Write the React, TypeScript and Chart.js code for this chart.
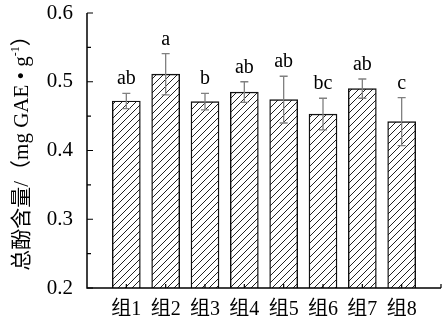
import React, { useEffect, useRef } from 'react';
import { Chart, registerables } from 'chart.js';
Chart.register(...registerables);

const categories = ['组1', '组2', '组3', '组4', '组5', '组6', '组7', '组8'];
const means = [0.472, 0.511, 0.471, 0.485, 0.474, 0.453, 0.49, 0.442];
const errors = [0.011, 0.03, 0.012, 0.015, 0.034, 0.023, 0.014, 0.035];
const letters = ['ab', 'a', 'b', 'ab', 'ab', 'bc', 'ab', 'c'];
const yMajor = [0.2, 0.3, 0.4, 0.5, 0.6];
const yMinor = [0.25, 0.35, 0.45, 0.55];

const SERIF = '"Liberation Serif", "Noto Sans CJK SC", serif';

function makePattern(): CanvasPattern | string {
  const s = 7;
  const c = document.createElement('canvas');
  c.width = s;
  c.height = s;
  const g = c.getContext('2d');
  if (!g) return '#fff';
  g.fillStyle = '#fff';
  g.fillRect(0, 0, s, s);
  g.strokeStyle = '#222';
  g.lineWidth = 1;
  g.beginPath();
  g.moveTo(0, s);
  g.lineTo(s, 0);
  g.moveTo(-1, 1);
  g.lineTo(1, -1);
  g.moveTo(s - 1, s + 1);
  g.lineTo(s + 1, s - 1);
  g.stroke();
  return g.createPattern(c, 'repeat') || '#fff';
}

const customPlugin = {
  id: 'customDraw',
  afterDatasetsDraw(chart: any) {
    const { ctx, chartArea, scales } = chart;
    const x = scales.x;
    const y = scales.y;
    ctx.save();
    // error bars + letters
    means.forEach((m: number, i: number) => {
      const px = x.getPixelForValue(i + 1);
      const top = y.getPixelForValue(m + errors[i]);
      const bot = y.getPixelForValue(m - errors[i]);
      ctx.strokeStyle = '#808080';
      ctx.lineWidth = 1.3;
      ctx.beginPath();
      ctx.moveTo(px, top);
      ctx.lineTo(px, bot);
      ctx.moveTo(px - 4, top);
      ctx.lineTo(px + 4, top);
      ctx.moveTo(px - 4, bot);
      ctx.lineTo(px + 4, bot);
      ctx.stroke();
      ctx.fillStyle = '#000';
      ctx.font = '20px ' + SERIF;
      ctx.textAlign = 'center';
      ctx.textBaseline = 'alphabetic';
      ctx.fillText(letters[i], px, top - 9);
    });
    // axes
    ctx.strokeStyle = '#000';
    ctx.lineWidth = 1.5;
    ctx.beginPath();
    ctx.moveTo(chartArea.left, chartArea.top);
    ctx.lineTo(chartArea.left, chartArea.bottom);
    ctx.lineTo(chartArea.right, chartArea.bottom);
    ctx.stroke();
    ctx.lineWidth = 1.2;
    ctx.beginPath();
    yMajor.forEach((v) => {
      const py = y.getPixelForValue(v);
      ctx.moveTo(chartArea.left, py);
      ctx.lineTo(chartArea.left + 6, py);
    });
    yMinor.forEach((v) => {
      const py = y.getPixelForValue(v);
      ctx.moveTo(chartArea.left, py);
      ctx.lineTo(chartArea.left + 4, py);
    });
    for (let i = 1; i <= categories.length + 1; i++) {
      const px = x.getPixelForValue(i);
      ctx.moveTo(px, chartArea.bottom);
      ctx.lineTo(px, chartArea.bottom - 4);
    }
    ctx.stroke();
    // y title
    const pieces = [
      { t: '总酚含量/（mg GAE • g', size: 21, dy: 0 },
      { t: '-1', size: 12, dy: -9 },
      { t: '）', size: 21, dy: 0 },
    ];
    let total = 0;
    const widths = pieces.map((p) => {
      ctx.font = p.size + 'px ' + SERIF;
      const w = ctx.measureText(p.t).width;
      total += w;
      return w;
    });
    ctx.translate(28, 148);
    ctx.rotate(-Math.PI / 2);
    ctx.textAlign = 'left';
    ctx.textBaseline = 'alphabetic';
    ctx.fillStyle = '#000';
    let cx = -total / 2;
    pieces.forEach((p, i) => {
      ctx.font = p.size + 'px ' + SERIF;
      ctx.fillText(p.t, cx, p.dy);
      cx += widths[i];
    });
    ctx.restore();
  },
};

export default function App() {
  const ref = useRef<HTMLCanvasElement | null>(null);
  useEffect(() => {
    if (!ref.current) return;
    const chart = new Chart(ref.current, {
      type: 'bar',
      data: {
        labels: ['', ...categories, ''],
        datasets: [
          {
            data: [null, ...means, null],
            backgroundColor: makePattern() as any,
            borderColor: '#111',
            borderWidth: 1.4,
            barThickness: 28,
            borderSkipped: 'bottom',
          },
        ],
      },
      options: {
        animation: false,
        responsive: true,
        maintainAspectRatio: false,
        layout: { padding: { left: 0, top: 13, right: 1, bottom: 0 } },
        plugins: {
          legend: { display: false },
          tooltip: { enabled: false },
        },
        scales: {
          x: {
            type: 'category',
            offset: false,
            grid: { display: false, drawTicks: false },
            border: { display: false },
            ticks: {
              autoSkip: false,
              maxRotation: 0,
              padding: 10,
              color: '#000',
              font: { family: SERIF, size: 20 },
            },
            afterFit: (s: any) => {
              s.height = 37;
              s.paddingLeft = 0;
              s.paddingRight = 0;
            },
          },
          y: {
            min: 0.2,
            max: 0.6,
            grid: { display: false, drawTicks: false },
            border: { display: false },
            ticks: {
              stepSize: 0.1,
              padding: 14,
              color: '#000',
              font: { family: SERIF, size: 21 },
              callback: (v: any) => Number(v).toFixed(1),
            },
            afterFit: (s: any) => {
              s.width = 87;
              s.paddingTop = 0;
              s.paddingBottom = 0;
            },
          },
        },
      },
      plugins: [customPlugin],
    });
    return () => chart.destroy();
  }, []);
  return (
    <div style={{ position: 'fixed', left: 0, top: 0, width: 442, height: 325 }}>
      <canvas ref={ref} />
    </div>
  );
}
